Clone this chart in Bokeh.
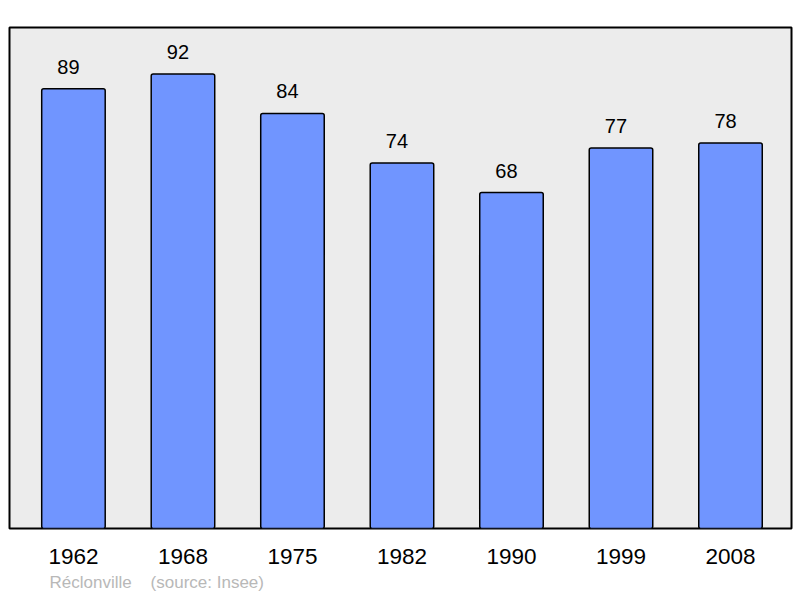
from bokeh.plotting import figure
from bokeh.models import Range1d, FixedTicker, Title
from bokeh.core.properties import value
from bokeh.embed import file_html
from bokeh.resources import INLINE

years = ["1962", "1968", "1975", "1982", "1990", "1999", "2008"]
population = [89, 92, 84, 74, 68, 77, 78]
commune = "Réclonville"
source = "(source: Insee)"

xs = list(range(len(years)))
FONT = "Liberation Sans"

p = figure(width=800, height=598, output_backend="svg", toolbar_location=None,
           x_range=Range1d(-0.584, 6.557), y_range=Range1d(0, 101.4),
           y_axis_location=None, min_border_left=9, min_border_right=9,
           min_border_top=27, min_border_bottom=70)

p.background_fill_color = "#ececec"
p.border_fill_color = "white"
p.outline_line_color = "black"
p.outline_line_width = 2
p.xgrid.visible = False
p.ygrid.visible = False

p.vbar(x=xs, top=population, width=0.58, bottom=0,
       fill_color="#7095ff", line_color="black", line_width=1.5,
       border_radius=2)

p.text(x=xs, y=population, text=[str(v) for v in population],
       text_align="center", text_baseline="alphabetic", x_offset=-5, y_offset=-22,
       text_font=value(FONT), text_font_size="20px", text_color="black")

ax = p.xaxis[0]
ax.ticker = FixedTicker(ticks=xs)
ax.major_label_overrides = {i: y for i, y in zip(xs, years)}
ax.axis_line_color = None
ax.major_tick_line_color = None
ax.minor_tick_line_color = None
ax.major_tick_out = 0
ax.major_tick_in = 0
ax.major_label_standoff = 20
ax.major_label_text_font = FONT
ax.major_label_text_font_size = "22.5px"
ax.major_label_text_color = "black"

p.add_layout(Title(text=commune + "\u00a0\u00a0\u00a0\u00a0" + source,
                   align="left", offset=40, standoff=9,
                   text_font=FONT, text_font_size="17px",
                   text_font_style="normal",
                   text_color="#b8b8b8"), "below")

open("out.html", "w").write(file_html(p, INLINE))
